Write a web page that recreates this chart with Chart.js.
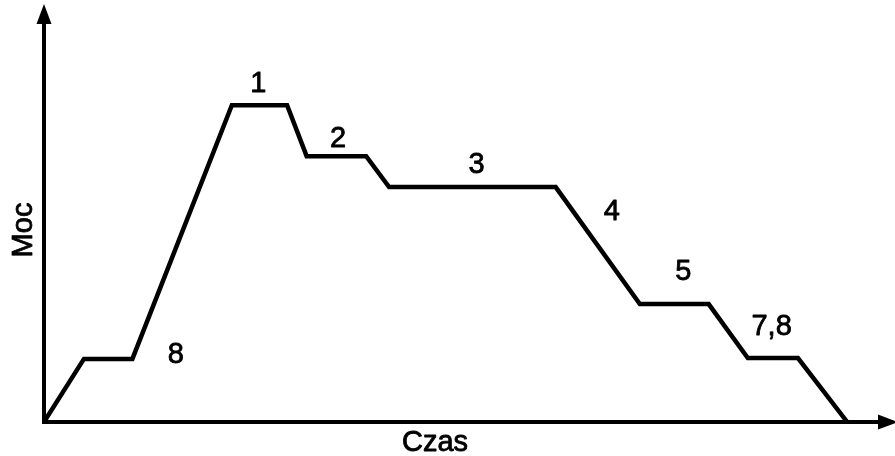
<!DOCTYPE html>
<html>
<head>
<meta charset="utf-8">
<script src="https://cdn.jsdelivr.net/npm/chart.js@4/dist/chart.umd.min.js"></script>
<style>
  html, body { margin: 0; padding: 0; background: #ffffff; }
  #wrap { width: 895px; height: 456px; }
</style>
</head>
<body>
<div id="wrap"><canvas id="c" width="895" height="456"></canvas></div>
<script>
// Time (x) and power (y) of the profile, in relative units 0..100
const timeValues  = [0, 4.7, 10.4, 22.1, 28.6, 30.9, 37.9, 40.6, 60.2, 70.1, 78.2, 82.8, 88.7, 94.5];
const powerValues = [0, 15.1, 15.1, 75.8, 75.8, 63.6, 63.6, 56.2, 56.2, 28.2, 28.2, 15.3, 15.3, 0];

// Phase labels placed in data coordinates
const phaseLabels = ["1", "2", "3", "4", "5", "7,8", "8"];
const phaseLabelX = [25.2, 34.6, 50.9, 66.8, 75.2, 85.6, 15.5];
const phaseLabelY = [81.3, 68.2, 62.0, 50.7, 36.4, 23.2, 16.5];

const xAxisTitle = "Czas";
const yAxisTitle = "Moc";

const FONT = "29px 'Liberation Sans', Arial, sans-serif";

function heavyText(ctx, s, x, y) {
  ctx.fillText(s, x, y);
  ctx.strokeText(s, x, y);
}

const axesAndText = {
  id: 'axesAndText',
  afterDatasetsDraw(chart) {
    const ctx = chart.ctx;
    const xs = chart.scales.x, ys = chart.scales.y;
    const x0 = xs.getPixelForValue(0);
    const y0 = ys.getPixelForValue(0);
    ctx.save();
    ctx.strokeStyle = '#000';
    ctx.fillStyle = '#000';
    ctx.lineWidth = 4;
    ctx.lineCap = 'butt';
    // y axis
    const yTip = 4;
    ctx.beginPath();
    ctx.moveTo(x0, y0 + 2);
    ctx.lineTo(x0, yTip + 15);
    ctx.stroke();
    ctx.beginPath();
    ctx.moveTo(x0, yTip);
    ctx.lineTo(x0 - 7.5, yTip + 20);
    ctx.lineTo(x0 + 7.5, yTip + 20);
    ctx.closePath();
    ctx.fill();
    // x axis
    const xTip = 898;
    ctx.beginPath();
    ctx.moveTo(x0 - 2, y0);
    ctx.lineTo(xTip - 15, y0);
    ctx.stroke();
    ctx.beginPath();
    ctx.moveTo(xTip, y0);
    ctx.lineTo(xTip - 20, y0 - 7.5);
    ctx.lineTo(xTip - 20, y0 + 7.5);
    ctx.closePath();
    ctx.fill();

    // phase labels
    ctx.font = FONT;
    ctx.lineWidth = 0.8;
    ctx.lineJoin = 'round';
    ctx.textAlign = 'center';
    ctx.textBaseline = 'alphabetic';
    for (let i = 0; i < phaseLabels.length; i++) {
      const px = xs.getPixelForValue(phaseLabelX[i]);
      const py = ys.getPixelForValue(phaseLabelY[i]);
      heavyText(ctx, phaseLabels[i], px, py + 10);
    }
    // axis titles
    heavyText(ctx, xAxisTitle, 435, 451);
    ctx.translate(32, 230);
    ctx.rotate(-Math.PI / 2);
    heavyText(ctx, yAxisTitle, 0, 0);
    ctx.restore();
  }
};

new Chart(document.getElementById('c'), {
  type: 'line',
  data: {
    datasets: [{
      data: timeValues.map((t, i) => ({ x: t, y: powerValues[i] })),
      borderColor: '#000',
      borderWidth: 4.5,
      pointRadius: 0,
      tension: 0,
      fill: false,
      borderJoinStyle: 'miter',
      borderCapStyle: 'butt'
    }]
  },
  options: {
    responsive: false,
    animation: false,
    layout: { padding: { left: 44, right: 1, top: 4, bottom: 34 } },
    plugins: { legend: { display: false }, tooltip: { enabled: false } },
    scales: {
      x: { type: 'linear', min: 0, max: 100, display: false },
      y: { type: 'linear', min: 0, max: 100, display: false }
    }
  },
  plugins: [axesAndText]
});
</script>
</body>
</html>
